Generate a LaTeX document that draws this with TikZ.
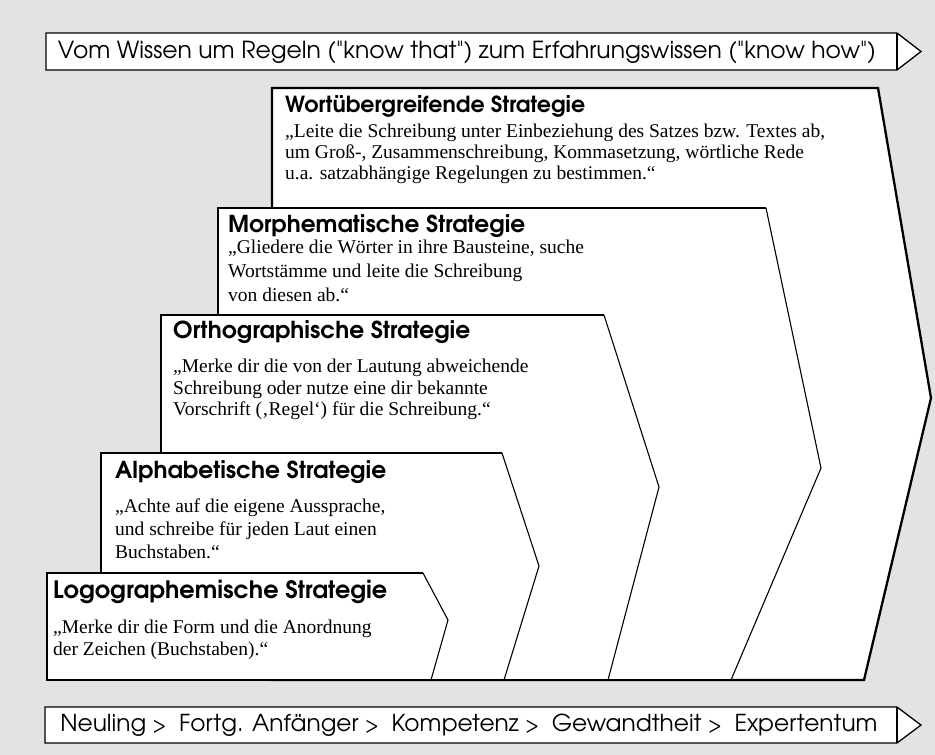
\documentclass[tikz,border=0pt]{standalone}
\usepackage{fontspec}
\usepackage{graphicx}
\setmainfont{Liberation Serif}
\newfontfamily\gothic{texgyreadventor}[Extension=.otf,UprightFont=*-regular,BoldFont=*-bold]
\definecolor{bgc}{rgb}{0.89,0.89,0.89}
\newcommand\sepgt{\scalebox{0.8}{>}}
\begin{document}
\begin{tikzpicture}[x=1pt,y=-1pt]
\tikzset{
  heavy/.style={line width=2.3pt, line join=miter},
  light/.style={line width=1.1pt},
  bannerline/.style={line width=1.3pt, line join=miter},
  bannertext/.style={inner sep=0pt, font=\gothic},
  ttl/.style={anchor=base west, inner sep=0pt, font=\gothic\bfseries},
  qt/.style={anchor=base west, inner sep=0pt, font=\fontsize{19.5}{21}\selectfont},
}
\fill[bgc] (0,0) rectangle (935,755);
\useasboundingbox (0,0) rectangle (935,755);

% top banner
\draw[bannerline, fill=white] (46,33) -- (897,33) -- (921,51.5) -- (897,70) -- (46,70) -- cycle;
\draw[bannerline] (897,33) -- (897,70);
\node[bannertext] (toptext) at (467,52) {\resizebox{818pt}{!}{Vom Wissen um Regeln ("know that") zum Erfahrungswissen ("know how")}};

% Wortuebergreifende
\draw[heavy, fill=white] (272,88) -- (878,88) -- (931,398) -- (864,680) -- (272,680) -- cycle;
% Morphematische
\fill[white] (218,208) -- (766,208) -- (821,468) -- (731,680) -- (218,680) -- cycle;
\draw[light] (766,208) -- (821,468) -- (731,680);
\draw[heavy] (731,680) -- (218,680) -- (218,208) -- (766,208);
% Orthographische
\fill[white] (161,315) -- (604,315) -- (659,487) -- (608,680) -- (161,680) -- cycle;
\draw[light] (604,315) -- (659,487) -- (608,680);
\draw[heavy] (608,680) -- (161,680) -- (161,315) -- (604,315);
% Alphabetische
\fill[white] (101,453) -- (502,453) -- (539,566) -- (504,680) -- (101,680) -- cycle;
\draw[light] (502,453) -- (539,566) -- (504,680);
\draw[heavy] (504,680) -- (101,680) -- (101,453) -- (502,453);
% Logographemische
\fill[white] (47,573) -- (423,573) -- (448,620) -- (431,680) -- (47,680) -- cycle;
\draw[light] (423,573) -- (448,620) -- (431,680);
\draw[heavy] (431,680) -- (47,680) -- (47,573) -- (423,573);

% titles
\node[ttl] (wt) at (285,112) {\resizebox{300pt}{!}{Wortübergreifende Strategie}};
\node[ttl] (mt) at (228,232) {\resizebox{297pt}{!}{Morphematische Strategie}};
\node[ttl] (ot) at (173,338) {\resizebox{297pt}{!}{Orthographische Strategie}};
\node[ttl] (at) at (115,478) {\resizebox{271pt}{!}{Alphabetische Strategie}};
\node[ttl] (lt) at (53,598) {\resizebox{334pt}{!}{Logographemische Strategie}};

% quotes
\node[qt] (w1) at (285,137) {„Leite die Schreibung unter Einbeziehung des Satzes bzw. Textes ab,};
\node[qt] (w2) at (285,158) {um Groß-, Zusammenschreibung, Kommasetzung, wörtliche Rede};
\node[qt] (w3) at (285,179) {u.a. satzabhängige Regelungen zu bestimmen.“};

\node[qt] (m1) at (228,253) {„Gliedere die Wörter in ihre Bausteine, suche};
\node[qt] (m2) at (228,277) {Wortstämme und leite die Schreibung};
\node[qt] (m3) at (228,301) {von diesen ab.“};

\node[qt] (o1) at (173,372) {„Merke dir die von der Lautung abweichende};
\node[qt] (o2) at (173,394) {Schreibung oder nutze eine dir bekannte};
\node[qt] (o3) at (173,415) {Vorschrift (‚Regel‘) für die Schreibung.“};

\node[qt] (a1) at (115,512) {„Achte auf die eigene Aussprache,};
\node[qt] (a2) at (115,535) {und schreibe für jeden Laut einen};
\node[qt] (a3) at (115,558) {Buchstaben.“};

\node[qt] (l1) at (53,633) {„Merke dir die Form und die Anordnung};
\node[qt] (l2) at (53,655) {der Zeichen (Buchstaben).“};

% bottom banner
\draw[bannerline, fill=white] (45,707) -- (897,707) -- (921,725) -- (897,743) -- (45,743) -- cycle;
\draw[bannerline] (897,707) -- (897,743);
\node[bannertext] (bottext) at (469,725) {\resizebox{817pt}{!}{Neuling \sepgt\ \ Fortg. Anfänger \sepgt\ \ Kompetenz \sepgt\ \ Gewandtheit \sepgt\ \ Expertentum}};
\end{tikzpicture}
\end{document}
